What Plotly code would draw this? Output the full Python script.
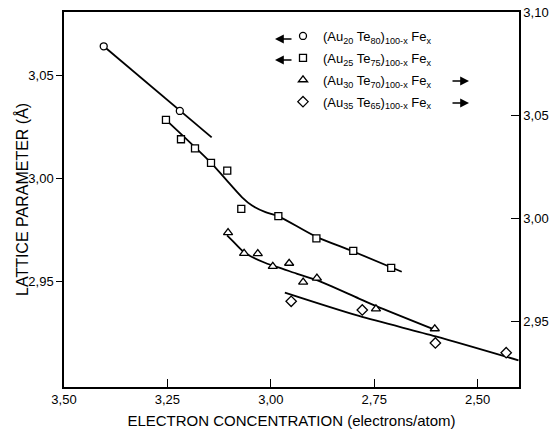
import plotly.graph_objects as go

# ---------------- data ----------------
# (Au20 Te80)100-x Fex  -> left axis
circ_x = [3.404, 3.220]
circ_y = [3.0639, 3.0326]
circ_fit_x = [3.404, 3.143]
circ_fit_y = [3.0639, 3.0198]

# (Au25 Te75)100-x Fex  -> left axis
sq_x = [3.2535, 3.2172, 3.1833, 3.1446, 3.1053, 3.0714, 2.9818, 2.8898, 2.8007, 2.7090]
sq_y = [3.0283, 3.0189, 3.0145, 3.0075, 3.0037, 2.9852, 2.9817, 2.9709, 2.9649, 2.9567]
sq_fit_x = [3.2542, 3.1446, 3.1097, 3.0695, 3.0453, 3.0128, 2.9814, 2.8910, 2.8007, 2.6835]
sq_fit_y = [3.0284, 3.0075, 2.9997, 2.9908, 2.9868, 2.9836, 2.9816, 2.9718, 2.9646, 2.9548]

# (Au30 Te70)100-x Fex  -> right axis
tri_x = [3.1034, 3.0646, 3.0315, 2.9952, 2.9557, 2.9218, 2.8886, 2.7458, 2.6036]
tri_y = [2.9932, 2.9832, 2.9831, 2.9769, 2.9784, 2.9693, 2.9712, 2.9563, 2.9467]
tri_fit_x = [3.1058, 3.0937, 3.0695, 3.0453, 3.0128, 2.9726, 2.9322, 2.8886, 2.7869, 2.7465, 2.5993]
tri_fit_y = [2.9919, 2.9895, 2.9846, 2.9814, 2.9785, 2.9758, 2.9730, 2.9702, 2.9613, 2.9578, 2.9459]

# (Au35 Te65)100-x Fex  -> right axis
dia_x = [2.9508, 2.7789, 2.6022, 2.4310]
dia_y = [2.9600, 2.9558, 2.9398, 2.9351]
dia_fit_x = [2.9661, 2.7869, 2.6012, 2.4012]
dia_fit_y = [2.9642, 2.9529, 2.9430, 2.9314]

x_ticks = [3.50, 3.25, 3.00, 2.75, 2.50]
left_ticks = [2.95, 3.00, 3.05]
right_ticks = [2.95, 3.00, 3.05, 3.10]

names = [
    "(Au<sub>20</sub> Te<sub>80</sub>)<sub>100-x</sub> Fe<sub>x</sub>",
    "(Au<sub>25</sub> Te<sub>75</sub>)<sub>100-x</sub> Fe<sub>x</sub>",
    "(Au<sub>30</sub> Te<sub>70</sub>)<sub>100-x</sub> Fe<sub>x</sub>",
    "(Au<sub>35</sub> Te<sub>65</sub>)<sub>100-x</sub> Fe<sub>x</sub>",
]

# ---------------- figure ----------------
W, H = 550, 429
L, R, T, B = 64, 31, 12, 42
FONT = "Liberation Sans, Arial, sans-serif"
LINE_W = 1.8

fig = go.Figure()

def fit(x, y, yaxis, smooth=True):
    fig.add_trace(go.Scatter(x=x, y=y, mode="lines", yaxis=yaxis, showlegend=False,
                             line=dict(color="black", width=LINE_W,
                                       shape="spline" if smooth else "linear", smoothing=0.8),
                             hoverinfo="skip"))

def pts(x, y, yaxis, symbol, size, name, grp):
    fig.add_trace(go.Scatter(x=x, y=y, mode="markers", yaxis=yaxis, name=name,
                             legendgroup=grp,
                             marker=dict(symbol=symbol, size=size, color="white",
                                         line=dict(color="black", width=1.3))))

fit(circ_fit_x, circ_fit_y, "y", smooth=False)
fit(sq_fit_x, sq_fit_y, "y")
fit(tri_fit_x, tri_fit_y, "y2")
fit(dia_fit_x, dia_fit_y, "y2")

pts(circ_x, circ_y, "y", "circle", 7, names[0], "a")
pts(sq_x, sq_y, "y", "square", 7, names[1], "b")
pts(tri_x, tri_y, "y2", "triangle-up", 8, names[2], "c")
pts(dia_x, dia_y, "y2", "diamond", 8, names[3], "d")

axis_common = dict(showgrid=False, zeroline=False, showline=True, linecolor="black",
                   linewidth=1.5, tickcolor="black", tickwidth=1.3, automargin=False,
                   tickfont=dict(family=FONT, size=13, color="black"),
                   tickformat=".2f")

fig.update_layout(
    width=W, height=H,
    margin=dict(l=L, r=R, t=T, b=B, pad=0, autoexpand=False),
    paper_bgcolor="white", plot_bgcolor="white",
    separators=",.",
    font=dict(family=FONT, color="black"),
    xaxis=dict(range=[3.50, 2.40], tickvals=x_ticks, ticks="inside", ticklen=8,
               mirror=True,
               title=dict(text="ELECTRON CONCENTRATION (electrons/atom)",
                          font=dict(family=FONT, size=15), standoff=11),
               **axis_common),
    yaxis=dict(range=[2.899, 3.0805], tickvals=left_ticks, ticks="outside", ticklen=6,
               **axis_common),
    yaxis2=dict(range=[2.9185, 3.100], tickvals=right_ticks, ticks="inside", ticklen=8,
                overlaying="y", side="right", **axis_common),
    legend=dict(x=(283 - L) / (W - L - R), y=1 - (21 - T) / (H - T - B),
                xanchor="left", yanchor="top", bgcolor="rgba(0,0,0,0)",
                font=dict(family=FONT, size=13, color="black"),
                tracegroupgap=2, itemwidth=30),
    showlegend=True,
)

def px2paper(px, py):
    return (px - L) / (W - L - R), 1 - (py - T) / (H - T - B)

# y-axis title as a rotated annotation
tx, ty = px2paper(22, 200)
fig.add_annotation(x=tx, y=ty, xref="paper", yref="paper", text="LATTICE PARAMETER (Å)",
                   showarrow=False, textangle=-90, xanchor="center", yanchor="middle",
                   font=dict(family=FONT, size=16, color="black"))

# legend arrows: left-pointing for left-axis series, right-pointing for right-axis series
for (hx, tx_, yy) in [(275, 293, 39), (275, 293, 60), (469, 451, 81), (469, 451, 103)]:
    x0, y0 = px2paper(hx, yy)
    fig.add_annotation(x=x0, y=y0, xref="paper", yref="paper", text="",
                       showarrow=True, ax=tx_ - hx, ay=0, axref="pixel", ayref="pixel",
                       arrowhead=2, arrowsize=1.1, arrowwidth=1.6, arrowcolor="black")

fig.write_html("out.html")
